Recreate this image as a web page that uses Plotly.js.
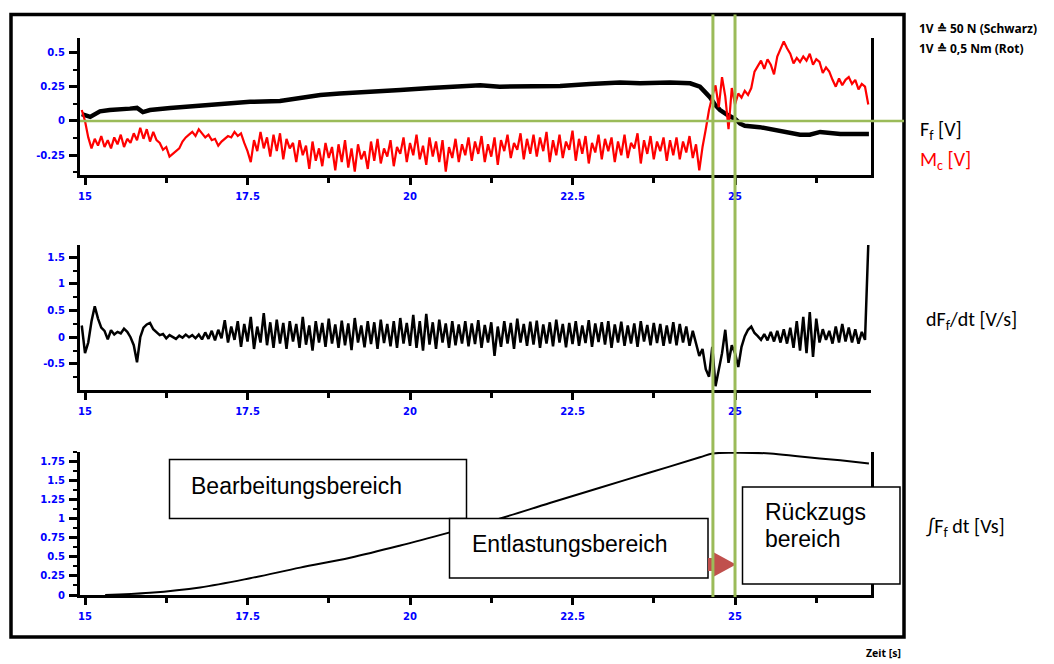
<!DOCTYPE html>
<html><head><meta charset="utf-8">
<script src="https://cdn.plot.ly/plotly-3.0.1.min.js"></script>
<style>html,body{margin:0;padding:0;background:#fff;overflow:hidden}#chart{width:1054px;height:664px}</style>
</head><body><div id="chart"></div>
<script>
// ---- data ----
// sampling of the two noisy channels (time in s)
const sampleStart = 14.95;
const sampleStep = 0.05;

// M_c [V] (red), one value per sample
const mcValues = [
  0.08, 0.0, -0.12, -0.2, -0.13, -0.18, -0.11, -0.19, -0.14, -0.2, -0.12, -0.17, -0.1, -0.19, -0.13, -0.16, -0.09, -0.14, -0.05, -0.13,
  -0.06, -0.15, -0.08, -0.14, -0.16, -0.21, -0.19, -0.26, -0.24, -0.22, -0.2, -0.15, -0.12, -0.1, -0.08, -0.11, -0.06, -0.09, -0.12, -0.1,
  -0.14, -0.13, -0.18, -0.15, -0.13, -0.11, -0.12, -0.08, -0.11, -0.09, -0.16, -0.22, -0.3, -0.14, -0.22, -0.08, -0.2, -0.12, -0.26, -0.1,
  -0.22, -0.09, -0.28, -0.13, -0.2, -0.16, -0.3, -0.14, -0.25, -0.18, -0.35, -0.15, -0.29, -0.2, -0.33, -0.16, -0.27, -0.19, -0.36, -0.17,
  -0.3, -0.14, -0.34, -0.2, -0.37, -0.17, -0.28, -0.22, -0.35, -0.15, -0.29, -0.13, -0.31, -0.2, -0.26, -0.14, -0.33, -0.19, -0.24, -0.12,
  -0.3, -0.16, -0.25, -0.1, -0.28, -0.18, -0.32, -0.12, -0.26, -0.15, -0.3, -0.14, -0.37, -0.19, -0.27, -0.13, -0.3, -0.17, -0.25, -0.12,
  -0.29, -0.15, -0.24, -0.11, -0.3, -0.17, -0.26, -0.12, -0.32, -0.14, -0.22, -0.1, -0.27, -0.16, -0.21, -0.09, -0.28, -0.13, -0.24, -0.1,
  -0.26, -0.12, -0.22, -0.08, -0.3, -0.14, -0.25, -0.1, -0.27, -0.15, -0.21, -0.07, -0.29, -0.13, -0.24, -0.11, -0.31, -0.16, -0.23, -0.1,
  -0.28, -0.13, -0.22, -0.12, -0.3, -0.15, -0.25, -0.1, -0.27, -0.16, -0.2, -0.09, -0.31, -0.14, -0.24, -0.11, -0.28, -0.15, -0.22, -0.12,
  -0.29, -0.14, -0.25, -0.12, -0.28, -0.15, -0.23, -0.11, -0.27, -0.17, -0.36, -0.19, -0.06, 0.08, 0.18, 0.26, 0.1, 0.32, 0.18, -0.06,
  0.24, 0.12, 0.2, 0.17, 0.22, 0.19, 0.24, 0.36, 0.4, 0.44, 0.38, 0.45, 0.41, 0.34, 0.47, 0.52, 0.58, 0.53, 0.49, 0.42,
  0.46, 0.43, 0.47, 0.44, 0.49, 0.41, 0.45, 0.43, 0.35, 0.39, 0.36, 0.3, 0.25, 0.31, 0.26, 0.3, 0.32, 0.27, 0.3, 0.23,
  0.27, 0.25, 0.12
];

// dF_f/dt [V/s] (black, middle panel), one value per sample
const dfdtValues = [
  0.22, -0.3, -0.1, 0.3, 0.58, 0.35, 0.18, 0.12, -0.04, 0.13, 0.05, 0.1, 0.07, 0.16, 0.1, 0.0, -0.15, -0.47, 0.0, 0.18,
  0.24, 0.27, 0.15, 0.1, 0.04, 0.06, -0.02, 0.04, 0.01, -0.03, 0.03, -0.01, 0.05, 0.0, 0.04, -0.02, 0.05, -0.04, 0.09, -0.03,
  0.12, -0.06, 0.14, -0.02, 0.32, -0.1, 0.2, -0.05, 0.3, -0.18, 0.25, -0.08, 0.38, -0.22, 0.2, -0.1, 0.45, -0.15, 0.28, -0.2,
  0.33, -0.12, 0.27, -0.22, 0.3, -0.08, 0.25, -0.2, 0.38, -0.14, 0.22, -0.25, 0.3, -0.1, 0.27, -0.18, 0.35, -0.12, 0.24, -0.2,
  0.31, -0.15, 0.26, -0.24, 0.36, -0.1, 0.22, -0.19, 0.3, -0.13, 0.28, -0.22, 0.33, -0.11, 0.25, -0.17, 0.3, -0.2, 0.36, -0.12,
  0.27, -0.16, 0.42, -0.2, 0.3, -0.25, 0.44, -0.14, 0.28, -0.22, 0.33, -0.1, 0.26, -0.2, 0.3, -0.15, 0.24, -0.12, 0.3, -0.17,
  0.26, -0.13, 0.32, -0.2, 0.23, -0.1, 0.28, -0.35, 0.2, -0.18, 0.3, -0.12, 0.27, -0.22, 0.35, -0.1, 0.25, -0.16, 0.29, -0.14,
  0.31, -0.2, 0.24, -0.12, 0.28, -0.17, 0.33, -0.1, 0.25, -0.19, 0.27, -0.13, 0.3, -0.16, 0.22, -0.11, 0.32, -0.18, 0.26, -0.09,
  0.28, -0.14, 0.3, -0.2, 0.24, -0.1, 0.29, -0.16, 0.22, -0.12, 0.26, -0.18, 0.3, -0.08, 0.23, -0.15, 0.27, -0.11, 0.25, -0.16,
  0.22, -0.12, 0.28, -0.15, 0.25, -0.1, 0.2, -0.16, 0.12, -0.1, -0.35, -0.22, -0.6, -0.74, -0.18, -0.92, -0.62, -0.3, 0.14, -0.48,
  -0.15, -0.3, -0.56, -0.18, 0.02, 0.14, 0.2, 0.08, 0.02, -0.05, 0.06, -0.06, 0.1, -0.08, 0.12, -0.1, 0.15, -0.12, 0.18, -0.2,
  0.3, -0.25, 0.38, -0.3, 0.47, -0.37, 0.35, -0.1, 0.15, -0.05, 0.12, -0.12, 0.2, -0.1, 0.25, -0.08, 0.18, -0.1, 0.15, -0.12,
  0.1, -0.05, 1.73
];

// F_f [V] (thick black, top panel)
const ffTime = [14.95, 15.08, 15.23, 15.38, 15.69, 15.8, 15.89, 16.0, 16.31, 16.77, 17.23, 17.54, 18.0, 18.31, 18.62, 18.92,
  19.38, 19.85, 20.31, 20.62, 21.08, 21.38, 21.85, 22.31, 22.77, 23.23, 23.54, 24.0, 24.31, 24.46, 24.54, 24.62, 24.69,
  24.77, 24.88, 25.0, 25.08, 25.15, 25.38, 25.62, 25.85, 26.0, 26.15, 26.31, 26.62, 27.06];
const ffValues = [0.05, 0.03, 0.07, 0.08, 0.09, 0.095, 0.065, 0.08, 0.095, 0.11, 0.125, 0.14, 0.145, 0.17, 0.19, 0.2,
  0.21, 0.225, 0.24, 0.25, 0.26, 0.25, 0.255, 0.255, 0.27, 0.28, 0.275, 0.28, 0.275, 0.25, 0.21, 0.17, 0.12,
  0.08, 0.045, 0.015, -0.02, -0.035, -0.045, -0.065, -0.09, -0.1, -0.1, -0.08, -0.095, -0.095];

// integral of F_f dt [Vs] (bottom panel)
const intTime = [15.31, 16.0, 16.77, 17.54, 18.31, 19.08, 19.85, 20.6, 21.4, 22.15, 22.92, 23.69, 24.46, 24.66, 25.0, 25.54, 26.0, 26.62, 27.06];
const intValues = [0.0, 0.03, 0.1, 0.22, 0.36, 0.49, 0.65, 0.82, 1.01, 1.21, 1.41, 1.61, 1.81, 1.86, 1.87, 1.86, 1.82, 1.77, 1.73];

// tick labels
const xTickVals = [15, 17.5, 20, 22.5, 25];
const xTickText = ['15', '17.5', '20', '22.5', '25'];
const topTickVals = [-0.25, 0, 0.25, 0.5];
const topTickText = ['-0.25', '0', '0.25', '0.5'];
const midTickVals = [-0.5, 0, 0.5, 1, 1.5];
const midTickText = ['-0.5', '0', '0.5', '1', '1.5'];
const botTickVals = [0, 0.25, 0.5, 0.75, 1, 1.25, 1.5, 1.75];
const botTickText = ['0', '0.25', '0.5', '0.75', '1', '1.25', '1.5', '1.75'];

// phase boundaries (green vertical lines), s
const phaseBounds = [24.66, 25.0];

// ---- layout helpers ----
const W = 1054, H = 664;
const px = v => v / W;
const py = v => 1 - v / H;
const GREEN = '#9bbb59';
const tickFont = {family: 'DejaVu Sans', size: 10, color: '#0000ff', weight: 'bold'};

function xAxis(anchor) {
  return {
    domain: [px(80), px(871)], range: [14.923, 27.092], anchor: anchor,
    tickmode: 'array', tickvals: xTickVals, ticktext: xTickText,
    ticks: 'outside', ticklen: 7, tickwidth: 3, tickcolor: '#000', ticklabelstandoff: 3,
    minor: {tickmode: 'linear', tick0: 15, dtick: 1.25, ticks: 'outside', ticklen: 5, tickwidth: 3, tickcolor: '#000', showgrid: false},
    showline: true, linecolor: '#000', linewidth: 3,
    showgrid: false, zeroline: false, tickfont: tickFont, fixedrange: true
  };
}
function yAxis(anchor, dom, rng, tv, tt, minorStep, mirror) {
  return {
    domain: dom, range: rng, anchor: anchor,
    tickmode: 'array', tickvals: tv, ticktext: tt,
    ticks: 'outside', ticklen: 8, tickwidth: 3, tickcolor: '#000', ticklabelstandoff: 2,
    minor: {tickmode: 'linear', tick0: 0, dtick: minorStep, ticks: 'outside', ticklen: 4, tickwidth: 2, tickcolor: '#000', showgrid: false},
    showline: true, linecolor: '#000', linewidth: 3, mirror: mirror,
    showgrid: false, zeroline: false, tickfont: tickFont, fixedrange: true
  };
}

const traces = [
  {type: 'scatter', mode: 'lines', x: ffTime, y: ffValues, xaxis: 'x', yaxis: 'y',
   line: {color: '#000', width: 4.5}, name: 'F_f'},
  {type: 'scatter', mode: 'lines', x0: sampleStart, dx: sampleStep, y: mcValues, xaxis: 'x', yaxis: 'y',
   line: {color: '#ff0000', width: 2.2}, name: 'M_c'},
  {type: 'scatter', mode: 'lines', x0: sampleStart, dx: sampleStep, y: dfdtValues, xaxis: 'x2', yaxis: 'y2',
   line: {color: '#000', width: 2.5}, name: 'dF_f/dt'},
  {type: 'scatter', mode: 'lines', x: intTime, y: intValues, xaxis: 'x3', yaxis: 'y3',
   line: {color: '#000', width: 2, shape: 'spline'}, name: 'int F_f dt'}
];

const shapes = [
  // outer frame
  {type: 'rect', xref: 'paper', yref: 'paper', x0: px(11), x1: px(904), y0: py(637), y1: py(14.5),
   line: {color: '#000', width: 3.5}, fillcolor: 'rgba(0,0,0,0)', layer: 'above'},
  // zero line of the top panel
  {type: 'line', xref: 'paper', yref: 'y', x0: px(80), x1: px(904), y0: 0, y1: 0,
   line: {color: GREEN, width: 2.5}, layer: 'above'},
  // annotation boxes
  {type: 'rect', xref: 'paper', yref: 'paper', x0: px(169.5), x1: px(466.5), y0: py(518.5), y1: py(459.5),
   line: {color: '#000', width: 1.5}, fillcolor: '#fff', layer: 'above'},
  {type: 'rect', xref: 'paper', yref: 'paper', x0: px(449.5), x1: px(708), y0: py(578), y1: py(518.5),
   line: {color: '#000', width: 1.5}, fillcolor: '#fff', layer: 'above'},
  {type: 'rect', xref: 'paper', yref: 'paper', x0: px(742.5), x1: px(900), y0: py(584), y1: py(487),
   line: {color: '#000', width: 1.5}, fillcolor: '#fff', layer: 'above'},
  // arrow
  {type: 'path', xref: 'paper', yref: 'paper',
   path: 'M' + px(708) + ',' + py(558) + ' L' + px(714) + ',' + py(558) + ' L' + px(714) + ',' + py(552.5) +
         ' L' + px(736) + ',' + py(564.5) + ' L' + px(714) + ',' + py(576.5) + ' L' + px(714) + ',' + py(571) +
         ' L' + px(708) + ',' + py(571) + ' Z',
   fillcolor: '#c0504d', line: {width: 0}, layer: 'above'}
];
phaseBounds.forEach(t => shapes.push({
  type: 'line', xref: 'x', yref: 'paper', x0: t, x1: t, y0: py(597), y1: py(14.5),
  line: {color: GREEN, width: 3}, layer: 'above'
}));

const rightFont = {family: 'Carlito, "Open Sans", sans-serif', size: 20, color: '#000'};
function note(text, x, y, font, extra) {
  return Object.assign({text: text, xref: 'paper', yref: 'paper', x: px(x), y: py(y),
    xanchor: 'left', yanchor: 'middle', showarrow: false, align: 'left', font: font}, extra || {});
}
const boxFont = {family: 'Liberation Sans, Arial, sans-serif', size: 23, color: '#000'};
const smallBold = {family: 'Noto Sans, sans-serif', size: 12, color: '#000', weight: 'bold'};
const annotations = [
  note('1V \u2259 50 N (Schwarz)', 917, 29, smallBold),
  note('1V \u2259 0,5 Nm (Rot)', 917, 48, smallBold),
  note('F<sub>f</sub> [V]', 918, 130, rightFont),
  note('M<sub>c</sub> [V]', 918, 160, Object.assign({}, rightFont, {color: '#ff0000'})),
  note('dF<sub>f</sub>/dt [V/s]', 924, 320, rightFont),
  note('\u222BF<sub>f</sub> dt [Vs]', 924, 527, rightFont),
  note('Zeit [s]', 864, 653, Object.assign({}, smallBold, {size: 10.5})),
  note('Bearbeitungsbereich', 189, 486, boxFont),
  note('Entlastungsbereich', 470, 544, boxFont),
  note('R\u00fcckzugs', 763, 512, boxFont),
  note('bereich', 763, 539, boxFont)
];

const layout = {
  width: W, height: H,
  margin: {l: 0, r: 0, t: 0, b: 0, pad: 0},
  paper_bgcolor: '#fff', plot_bgcolor: '#fff',
  showlegend: false,
  xaxis: xAxis('y'),
  xaxis2: xAxis('y2'),
  xaxis3: xAxis('y3'),
  yaxis: yAxis('x', [py(175), py(38)], [-0.394, 0.605], topTickVals, topTickText, 0.125, true),
  yaxis2: yAxis('x2', [py(390), py(245)], [-0.99, 1.73], midTickVals, midTickText, 0.25, false),
  yaxis3: yAxis('x3', [py(595), py(452)], [0, 1.88], botTickVals, botTickText, 0.125, true),
  shapes: shapes,
  annotations: annotations
};

Plotly.newPlot('chart', traces, layout, {staticPlot: true, displayModeBar: false});
</script>
</body></html>
